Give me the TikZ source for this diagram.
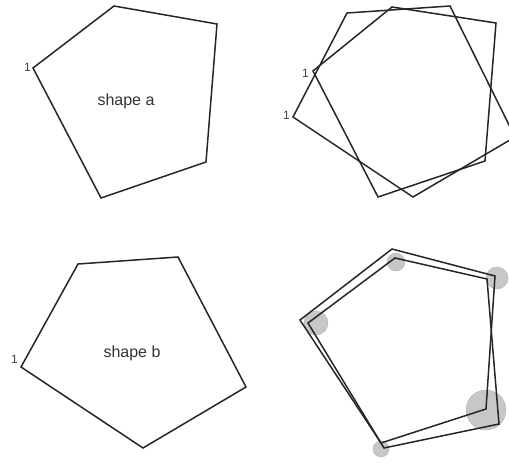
\documentclass[tikz,border=0pt]{standalone}
\usepackage{fontspec}
\setmainfont{Liberation Sans}
\begin{document}
\begin{tikzpicture}[x=1pt,y=-1pt,
  poly/.style={draw=black!85,line width=1.5pt,line join=miter},
  lbl/.style={font=\fontsize{12}{12}\selectfont,text=black!75,inner sep=0pt},
  captext/.style={font=\fontsize{16}{16}\selectfont,text=black!80,inner sep=0pt},
  err/.style={fill=black!22,draw=black!30,line width=0.4pt}]
\useasboundingbox (0,0) rectangle (509,463);
\clip (0,0) rectangle (509,463);
% shape a
\coordinate (a1) at (33,68);
\coordinate (a2) at (114,6);
\coordinate (a3) at (217,24);
\coordinate (a4) at (206,162);
\coordinate (a5) at (101,198);
\draw[poly] (a1)--(a2)--(a3)--(a4)--(a5)--cycle;
\node[lbl,anchor=east] (la) at ([xshift=-2pt,yshift=1pt]a1) {1};
\node[captext] (ta) at (126,101) {shape a};
% shape b
\coordinate (b1) at (21,367);
\coordinate (b2) at (78,264);
\coordinate (b3) at (178,257);
\coordinate (b4) at (246,387);
\coordinate (b5) at (143,448);
\draw[poly] (b1)--(b2)--(b3)--(b4)--(b5)--cycle;
\node[lbl,anchor=east] (lb) at ([xshift=-3pt,yshift=8pt]b1) {1};
\node[captext] (tb) at (132,353) {shape b};
% overlay top right
\coordinate (c1) at (313,71);
\coordinate (c2) at (392,7);
\coordinate (c3) at (496,23);
\coordinate (c4) at (485,161);
\coordinate (c5) at (378,197);
\draw[poly] (c1)--(c2)--(c3)--(c4)--(c5)--cycle;
\node[lbl,anchor=east] (lc) at ([xshift=-4pt,yshift=-2pt]c1) {1};
\coordinate (d1) at (293,117);
\coordinate (d2) at (347,13);
\coordinate (d3) at (450,6);
\coordinate (d4) at (515,137);
\coordinate (d5) at (413,197);
\draw[poly] (d1)--(d2)--(d3)--(d4)--(d5)--cycle;
\node[lbl,anchor=east] (ld) at ([xshift=-3pt,yshift=2pt]d1) {1};
% aligned bottom right
\node[err,circle,minimum size=24pt,inner sep=0pt] (e1) at (316,323) {};
\node[err,circle,minimum size=18pt,inner sep=0pt] (e2) at (396,262) {};
\node[err,circle,minimum size=22pt,inner sep=0pt] (e3) at (497,278) {};
\node[err,circle,minimum size=40pt,inner sep=0pt] (e4) at (486,410) {};
\node[err,circle,minimum size=16pt,inner sep=0pt] (e5) at (381,449) {};
\coordinate (f1) at (300,320);
\coordinate (f2) at (392,249);
\coordinate (f3) at (495,276);
\coordinate (f4) at (486,409);
\coordinate (f5) at (381,443);
\draw[poly] (f1)--(f2)--(f3)--(f4)--(f5)--cycle;
\coordinate (g1) at (308,323);
\coordinate (g2) at (395,258);
\coordinate (g3) at (487,279);
\coordinate (g4) at (499,424);
\coordinate (g5) at (384,448);
\draw[poly] (g1)--(g2)--(g3)--(g4)--(g5)--cycle;
\end{tikzpicture}
\end{document}
